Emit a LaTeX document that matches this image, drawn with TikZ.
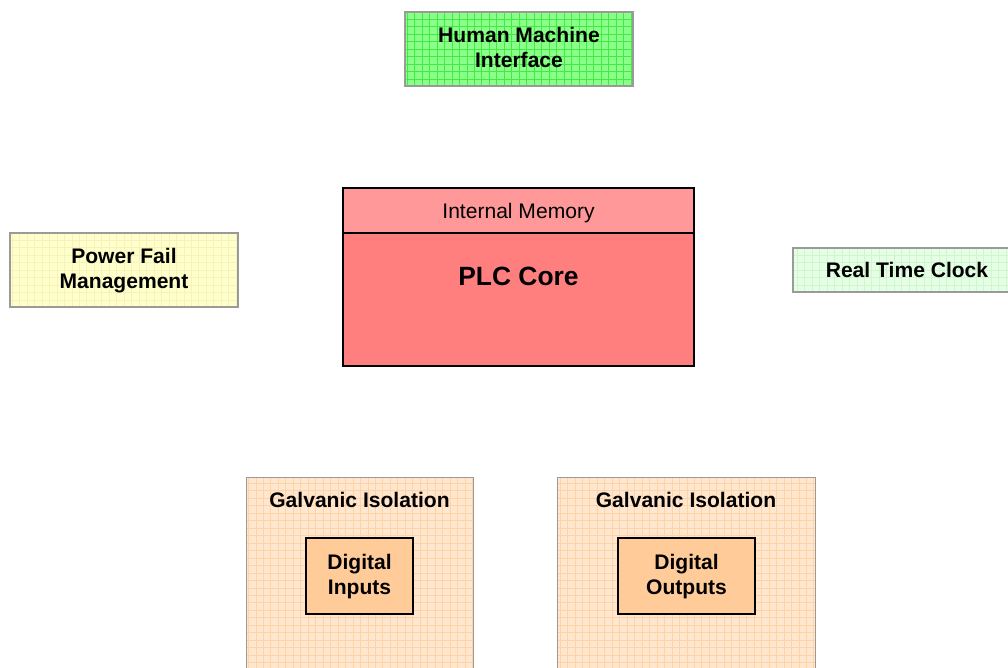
\documentclass[tikz,border=0pt]{standalone}
\usepackage{fontspec}
\setmainfont{Liberation Sans}
\definecolor{hmifill}{HTML}{8AFF8A}
\definecolor{hmigrid}{HTML}{44EA44}
\definecolor{pffill}{HTML}{FFFFCC}
\definecolor{pfgrid}{HTML}{F7F2B8}
\definecolor{rtcfill}{HTML}{E4FFE4}
\definecolor{rtcgrid}{HTML}{D0F5D0}
\definecolor{gifill}{HTML}{FFE6CE}
\definecolor{gigrid}{HTML}{FFD2A8}
\definecolor{memfill}{HTML}{FF9999}
\definecolor{corefill}{HTML}{FF7F7F}
\definecolor{iofill}{HTML}{FFCC99}
\definecolor{bordergray}{HTML}{9A9A9A}
\tikzset{
  gridbox/.style n args={2}{draw=bordergray, line width=1.1pt, fill=#1, inner sep=0pt,
    path picture={\draw[#2, line width=0.3pt, step=5.6pt]
      ([shift={(-6pt,-6pt)}]path picture bounding box.south west) grid
      ([shift={(6pt,6pt)}]path picture bounding box.north east);}},
  blackbox/.style={draw=black, line width=1.4pt, fill=#1, inner sep=0pt},
  bold/.style={font=\fontsize{15.8}{18.75}\selectfont\bfseries, align=center, text=black, inner sep=0pt},
}
\begin{document}
\begin{tikzpicture}[x=0.75pt, y=-0.75pt]
\useasboundingbox (0,0) rectangle (1008,668);
\clip (0,0) rectangle (1008,668);
% Human machine interface
\node[gridbox={hmifill}{hmigrid}, minimum width=171pt, minimum height=55.5pt] (hmi) at (519,49) {};
\node[bold] (hmit) at (519,47) {Human Machine\\Interface};
% Power fail
\node[gridbox={pffill}{pfgrid}, minimum width=171pt, minimum height=55.5pt] (pf) at (124,270) {};
\node[bold] (pft) at (124,271) {Power Fail\\Management};
% Real time clock
\node[gridbox={rtcfill}{rtcgrid}, minimum width=174pt, minimum height=33pt] (rtc) at (909,270) {};
\node[bold] (rtct) at (907,270) {Real Time Clock};
% PLC core
\node[blackbox=corefill, minimum width=263.25pt, minimum height=133.5pt] (plc) at (518.5,277) {};
\node[blackbox=memfill, minimum width=263.25pt, minimum height=33.75pt, anchor=north] (mem) at (plc.north) {};
\node[font=\fontsize{15.8}{18}\selectfont, inner sep=0pt] (memt) at (518.5,213) {Internal Memory};
\node[font=\fontsize{19.8}{23}\selectfont\bfseries, inner sep=0pt] (plct) at (518.5,276) {PLC Core};
% Galvanic isolation left
\node[gridbox={gifill}{gigrid}, minimum width=170.25pt, minimum height=165pt, anchor=north west] (gil) at (246,477) {};
\node[bold] (gilt) at (359.5,500) {Galvanic Isolation};
\node[blackbox=iofill, minimum width=80.25pt, minimum height=57pt] (di) at (359.5,576) {};
\node[bold] (dit) at (359.5,577) {Digital\\Inputs};
% Galvanic isolation right
\node[gridbox={gifill}{gigrid}, minimum width=193.5pt, minimum height=165pt, anchor=north west] (gir) at (557,477) {};
\node[bold] (girt) at (686,500) {Galvanic Isolation};
\node[blackbox=iofill, minimum width=102.75pt, minimum height=57pt] (do) at (686.5,576) {};
\node[bold] (dot) at (686.5,577) {Digital\\Outputs};
\end{tikzpicture}
\end{document}
